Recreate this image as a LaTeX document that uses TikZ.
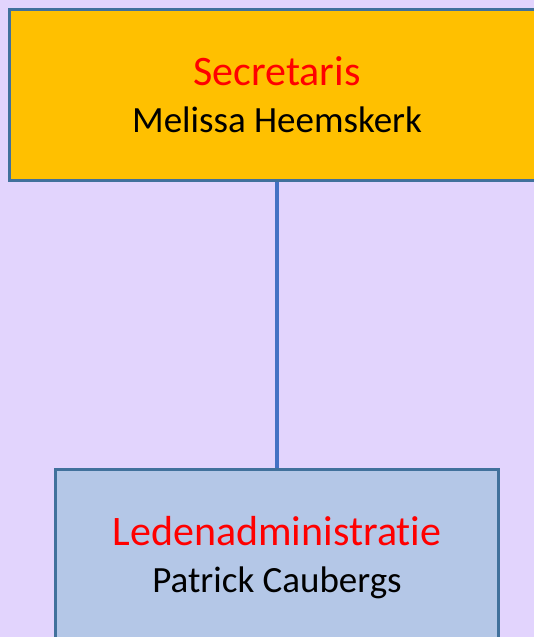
\documentclass[tikz,border=0pt]{standalone}
\usepackage{fontspec}
\setmainfont{Carlito}[Ligatures=NoCommon]
\definecolor{backdrop}{HTML}{E2D4FD}
\definecolor{gold}{HTML}{FFC000}
\definecolor{paleblue}{HTML}{B4C7E7}
\definecolor{boxline}{HTML}{41719C}
\definecolor{linkblue}{HTML}{4472C4}
\definecolor{rolered}{HTML}{FF0000}
\usetikzlibrary{positioning}
\newcommand{\rolename}[1]{{\fontsize{42}{47}\selectfont\color{rolered}#1}}
\newcommand{\personname}[1]{{\fontsize{37}{47}\selectfont #1}}
\tikzset{
    orgbox/.style={
        rectangle,
        draw=boxline,
        line width=3pt,
        inner sep=0pt,
        align=center,
        font=\fontsize{37}{47}\selectfont
    },
    linkstyle/.style={line width=4pt, color=linkblue}
}
\begin{document}
\begin{tikzpicture}[x=1pt, y=-1pt]
          \useasboundingbox (0,0) rectangle (534,637);
          \clip (0,0) rectangle (534,637);
          \fill[backdrop] (0,0) rectangle (534,637);
          \node[orgbox, fill=gold, minimum width=535pt, minimum height=171pt] (secr) at (277,95) {\rolename{Secretaris}\\\personname{Melissa Heemskerk}};
          \node[orgbox, fill=paleblue, minimum width=443pt, minimum height=177pt] (leden) at (277,558) {\rolename{Ledenadministratie}\\\personname{Patrick Caubergs}};
          
          \draw[linkstyle] (secr) -- (leden);
        \end{tikzpicture}
\end{document}
